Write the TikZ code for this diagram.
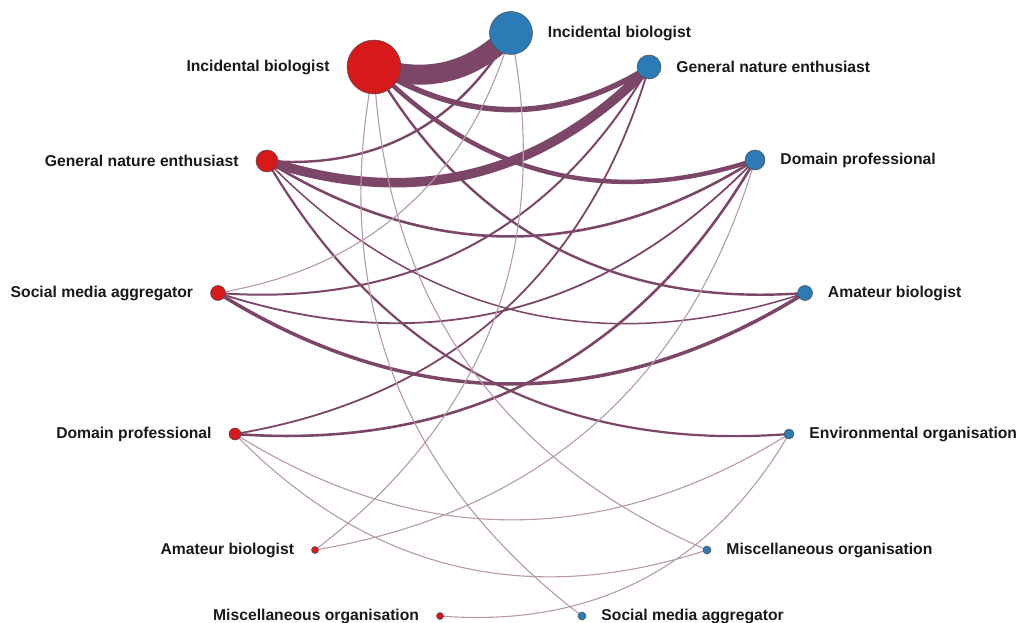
\documentclass[tikz,border=0pt]{standalone}
\usepackage{fontspec}
\setmainfont{Liberation Sans}
\usetikzlibrary{positioning,backgrounds}

\definecolor{redgrp}{HTML}{D7191C}
\definecolor{bluegrp}{HTML}{2C7BB6}
\definecolor{linkc}{HTML}{7B4667}

\tikzset{
  grp/.style={circle, draw=black!70, line width=0.5pt, inner sep=0pt, minimum size=#1},
  lbl/.style={font=\bfseries\fontsize{15.7}{18}\selectfont, inner sep=0pt, text=black!90},
}

\begin{document}
\begin{tikzpicture}[x=1pt,y=-1pt]
    \useasboundingbox (0,0) rectangle (1034,623);
    % left group
    \foreach \n/\x/\y/\d/\t in {r1/374/67/54/Incidental biologist, r2/267/161/22/General nature enthusiast,
        r3/218/293/15/Social media aggregator, r4/235/434/12/Domain professional,
        r5/315/550/7/Amateur biologist, r6/440/616/7/Miscellaneous organisation} {
      \node[grp=\d pt, fill=redgrp] (\n) at (\x,\y) {};
      \node[lbl, left=17pt of \n] (\n-txt) {\t};
    }
    % right group
    \foreach \n/\x/\y/\d/\t in {b1/511/33/43/Incidental biologist, b2/649/67/24/General nature enthusiast,
        b3/755/160/20/Domain professional, b4/805/293/15/Amateur biologist,
        b5/789/434/10/Environmental organisation, b6/707/550/8/Miscellaneous organisation,
        b7/582/616/8/Social media aggregator} {
      \node[grp=\d pt, fill=bluegrp] (\n) at (\x,\y) {};
      \node[lbl, right=15pt of \n] (\n-txt) {\t};
    }
    \begin{scope}[on background layer]
      \foreach \a/\b/\w/\c in {r1/b1/20/100, r2/b2/9.5/100, r1/b2/5.5/100, r1/b3/4.5/100,
          r3/b4/3.5/100, r2/b3/2.6/100, r1/b4/2.4/100, r2/b1/2.4/100, r4/b3/2.6/100,
          r2/b5/2.2/100, r3/b2/2/100, r3/b3/1.8/100, r4/b2/1.8/100, r2/b4/1.5/100,
          r3/b1/1.1/55, r5/b1/1.1/55, r5/b3/1.1/55, r1/b6/1.1/55, r1/b7/1.1/55,
          r4/b5/1.1/55, r4/b6/1.1/55, r6/b5/1.1/55}
        \draw[linkc!\c, line width=\w pt] (\a.center) to[bend right=32] (\b.center);
    \end{scope}
\end{tikzpicture}
\end{document}
